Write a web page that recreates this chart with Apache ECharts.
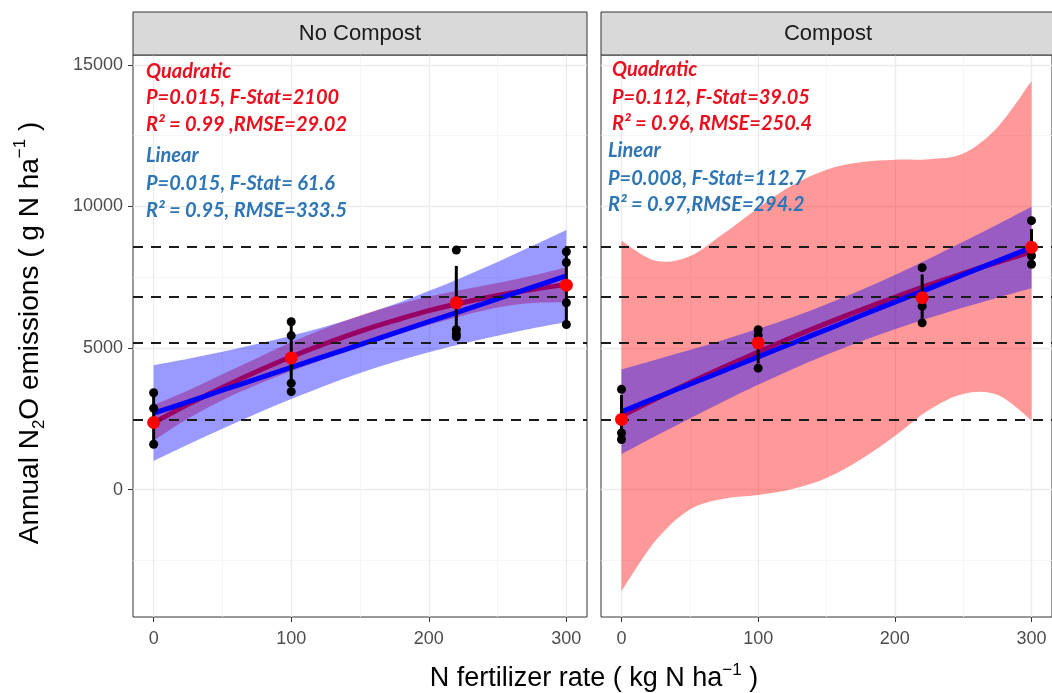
<!DOCTYPE html>
<html><head><meta charset="utf-8">
<script src="https://cdn.jsdelivr.net/npm/echarts@6.0.0/dist/echarts.min.js"></script>
<style>html,body{margin:0;padding:0;background:#fff}#c{width:1052px;height:693px}</style>
</head><body><div id="c"></div>
<script>
// ---- data ----
const xs = [0,25,50,75,100,125,150,175,200,225,250,275,300];
const xTicks = [0,100,200,300];
const xMinor = [50,150,250];
const yTicks = [0,5000,10000,15000];
const yMinor = [-2500,2500,7500,12500];
const rates = [0,100,220,300];
const panelTitles = ['No Compost','Compost'];

// No Compost
const ncObs = [[3420,2870,2370,1600],[5930,5440,3760,3460],[8460,5650,5500,5400],[8400,8020,6600,5830]];
const ncMean = [2370,4650,6600,7220];
const ncBarLow = [1600,3460,5300,5830];
const ncBarHigh = [3420,5930,7900,8400];
const ncQuad = [2360,3010,3610,4170,4690,5160,5590,5970,6320,6610,6860,7070,7240];
const ncQuadLow = [1730,2510,3160,3700,4180,4610,5030,5430,5810,6150,6430,6590,6620];
const ncQuadHigh = [2990,3500,4070,4640,5200,5710,6150,6510,6820,7070,7300,7550,7850];
const ncLin = [2700,3100,3510,3910,4320,4720,5120,5530,5930,6330,6740,7140,7550];
const ncLinLow = [1010,1590,2150,2690,3200,3680,4120,4510,4850,5160,5430,5690,5920];
const ncLinHigh = [4390,4620,4870,5140,5430,5760,6130,6550,7010,7510,8040,8600,9170];

// Compost
const cObs = [[3540,2480,2000,1770],[5650,5450,5180,4290],[7840,6780,6480,5890],[9500,8560,8260,7960]];
const cMean = [2480,5180,6780,8560];
const cBarLow = [1850,4450,6050,7900];
const cBarHigh = [3350,5500,7600,9200];
const cQuad = [2600,3200,3770,4330,4860,5380,5870,6340,6790,7230,7640,8030,8400];
const cQuadLow = [-3590,-1800,-700,-320,-190,20,410,1060,1890,2810,3380,3350,2450];
const cQuadHigh = [8790,8080,8240,9050,9950,10750,11300,11560,11650,11670,11870,12790,14430];
const cLin = [2750,3240,3720,4200,4690,5170,5650,6140,6620,7100,7590,8070,8550];
const cLinLow = [1250,1890,2510,3120,3700,4250,4760,5230,5660,6060,6430,6780,7110];
const cLinHigh = [4250,4590,4930,5290,5680,6090,6550,7040,7580,8150,8750,9360,9990];

const refLines = [2480,5170,6800,8560];

const ncQuadText = ['Quadratic','P=0.015, F-Stat=2100','R\u00B2 = 0.99 ,RMSE=29.02'];
const ncLinText = ['Linear','P=0.015, F-Stat= 61.6','R\u00B2 = 0.95, RMSE=333.5'];
const cQuadText = ['Quadratic','P=0.112, F-Stat=39.05','R\u00B2 = 0.96, RMSE=250.4'];
const cLinText = ['Linear','P=0.008, F-Stat=112.7','R\u00B2 = 0.97,RMSE=294.2'];

// ---- chart ----
const panels = [
  {obs:ncObs, mean:ncMean, lo:ncBarLow, hi:ncBarHigh, quad:ncQuad, qlo:ncQuadLow, qhi:ncQuadHigh, lin:ncLin, llo:ncLinLow, lhi:ncLinHigh},
  {obs:cObs, mean:cMean, lo:cBarLow, hi:cBarHigh, quad:cQuad, qlo:cQuadLow, qhi:cQuadHigh, lin:cLin, llo:cLinLow, lhi:cLinHigh}
];
const G = [{left:133, top:55, width:454, height:562},{left:601, top:55, width:454, height:562}];
const AX = 'Liberation Sans, Arial, sans-serif';
const ANN = 'Lato, Carlito, sans-serif';

const majorStyle = {color:'#EBEBEB', width:1.3, type:'solid'};
const minorStyle = {color:'#F3F3F3', width:0.8, type:'solid'};
const gridLines = [].concat(
  yTicks.map(v=>({yAxis:v, lineStyle:majorStyle})),
  yMinor.map(v=>({yAxis:v, lineStyle:minorStyle})),
  xTicks.map(v=>({xAxis:v, lineStyle:majorStyle})),
  xMinor.map(v=>({xAxis:v, lineStyle:minorStyle}))
);

// smooth path (Catmull-Rom) through pixel points given by the axes
function crSegs(P){
  let d = '';
  for (let i=0;i<P.length-1;i++){
    const p0 = P[Math.max(i-1,0)], p1 = P[i], p2 = P[i+1], p3 = P[Math.min(i+2,P.length-1)];
    const c1 = [p1[0]+(p2[0]-p0[0])/6, p1[1]+(p2[1]-p0[1])/6];
    const c2 = [p2[0]-(p3[0]-p1[0])/6, p2[1]-(p3[1]-p1[1])/6];
    d += ' C'+c1[0]+','+c1[1]+' '+c2[0]+','+c2[1]+' '+p2[0]+','+p2[1];
  }
  return d;
}
function ribbon(k, lo, hi, color, z){
  return {type:'custom', xAxisIndex:k, yAxisIndex:k, silent:true, z:z,
    data:xs.map((x,i)=>[x,lo[i],hi[i]]), encode:{x:0, y:[1,2]},
    renderItem:(params, api)=>{
      if (params.dataIndex !== 0) return null;
      const top = xs.map((x,i)=>api.coord([x,hi[i]]));
      const bot = xs.map((x,i)=>api.coord([x,lo[i]])).reverse();
      const d = 'M'+top[0][0]+','+top[0][1]+crSegs(top)+' L'+bot[0][0]+','+bot[0][1]+crSegs(bot)+' Z';
      return {type:'path', shape:{pathData:d}, style:{fill:color, opacity:0.4}};
    }};
}

const pairs = (arr)=>xs.map((x,i)=>[x,arr[i]]);
const series = [];
panels.forEach((p, k)=>{
  const ax = {xAxisIndex:k, yAxisIndex:k};
  series.push(Object.assign({type:'line', data:[], symbol:'none', silent:true, z:1,
    markLine:{silent:true, symbol:['none','none'], label:{show:false}, z:1, animation:false, data:gridLines}}, ax));
  series.push(ribbon(k, p.qlo, p.qhi, '#FF0000', 2));
  series.push(Object.assign({type:'line', data:pairs(p.quad), smooth:0.4, symbol:'none',
    lineStyle:{color:'#FF0000', width:5}, silent:true, z:3}, ax));
  series.push(ribbon(k, p.llo, p.lhi, '#0000FF', 4));
  series.push(Object.assign({type:'line', data:pairs(p.lin), smooth:0.4, symbol:'none',
    lineStyle:{color:'#0000FF', width:5}, silent:true, z:5,
    markLine:{silent:true, symbol:['none','none'], label:{show:false}, z:6, animation:false,
      lineStyle:{color:'#1a1a1a', width:2, type:[10,8]}, data:refLines.map(v=>({yAxis:v}))}}, ax));
  series.push(Object.assign({type:'custom', data:rates.map((x,i)=>[x,p.lo[i],p.hi[i]]), encode:{x:0, y:[1,2]}, z:7, silent:true,
    renderItem:(params, api)=>{
      const a = api.coord([api.value(0), api.value(1)]);
      const b = api.coord([api.value(0), api.value(2)]);
      return {type:'line', shape:{x1:a[0], y1:a[1], x2:b[0], y2:b[1]}, style:{stroke:'#000', lineWidth:3}};
    }}, ax));
  const pts = [];
  rates.forEach((x,i)=>p.obs[i].forEach(v=>pts.push([x,v])));
  series.push(Object.assign({type:'scatter', data:pts, symbolSize:9, itemStyle:{color:'#000', opacity:1}, silent:true, z:8}, ax));
  series.push(Object.assign({type:'scatter', data:rates.map((x,i)=>[x,p.mean[i]]), symbolSize:13, itemStyle:{color:'#FF0000', opacity:1}, silent:true, z:9}, ax));
});

const xAxis = G.map((g,k)=>({type:'value', gridIndex:k, min:-15, max:315,
  axisLine:{show:false, onZero:false},
  axisTick:{show:true, length:5, lineStyle:{color:'#333', width:1}, customValues:xTicks},
  axisLabel:{customValues:xTicks, margin:13, color:'#4d4d4d', fontSize:18, fontFamily:AX, formatter:v=>String(v)},
  splitLine:{show:false}, minorSplitLine:{show:false}}));
const yAxis = G.map((g,k)=>({type:'value', gridIndex:k, min:-4500, max:15350,
  axisLine:{show:false, onZero:false},
  axisTick:{show:k===0, length:5, lineStyle:{color:'#333', width:1}, customValues:yTicks},
  axisLabel:{show:k===0, customValues:yTicks, margin:10, color:'#4d4d4d', fontSize:18, fontFamily:AX, formatter:v=>String(v)},
  splitLine:{show:false}}));

const graphic = [];
G.forEach((g,k)=>{
  graphic.push({type:'rect', shape:{x:g.left, y:12, width:g.width, height:43}, style:{fill:'#D9D9D9', stroke:'#333', lineWidth:1}, z:10});
  graphic.push({type:'text', x:g.left+g.width/2, y:34, style:{text:panelTitles[k], fill:'#1a1a1a', font:'22px '+AX, align:'center', verticalAlign:'middle'}, z:11});
});
function annot(lines, x, ys, color){
  lines.forEach((t,i)=>graphic.push({type:'text', x:x, y:ys[i], style:{text:t, fill:color, font:'italic bold 20px '+ANN, align:'left', verticalAlign:'middle'}, z:12}));
}
const RED='#EA0F1E', BLUE='#2E75B6';
annot(ncQuadText, 146, [72,98,125], RED);
annot(ncLinText, 146, [156,184,211], BLUE);
annot(cQuadText, 612, [70,98,124], RED);
annot(cLinText, 608, [151,179,205], BLUE);

const rich = {
  sup:{fontSize:17, lineHeight:16, verticalAlign:'top', fontFamily:AX, fill:'#000'},
  sub:{fontSize:17, lineHeight:16, verticalAlign:'bottom', fontFamily:AX, fill:'#000'}
};
graphic.push({type:'text', x:30, y:333, rotation:Math.PI/2,
  style:{text:'Annual N{sub|2}O emissions ( g N ha{sup|\u22121} )', rich:rich, fill:'#000', font:'28px '+AX, lineHeight:36, align:'center', verticalAlign:'middle'}, z:12});
graphic.push({type:'text', x:594, y:679,
  style:{text:'N fertilizer rate ( kg N ha{sup|\u22121} )', rich:rich, fill:'#000', font:'27px '+AX, lineHeight:34, align:'center', verticalAlign:'middle'}, z:12});

const chart = echarts.init(document.getElementById('c'), null, {renderer:'canvas'});
chart.setOption({
  animation:false,
  backgroundColor:'#fff',
  grid:G.map(g=>Object.assign({show:true, borderColor:'#333', borderWidth:1, backgroundColor:'#fff', containLabel:false}, g)),
  xAxis:xAxis, yAxis:yAxis, series:series, graphic:graphic
});
</script></body></html>
